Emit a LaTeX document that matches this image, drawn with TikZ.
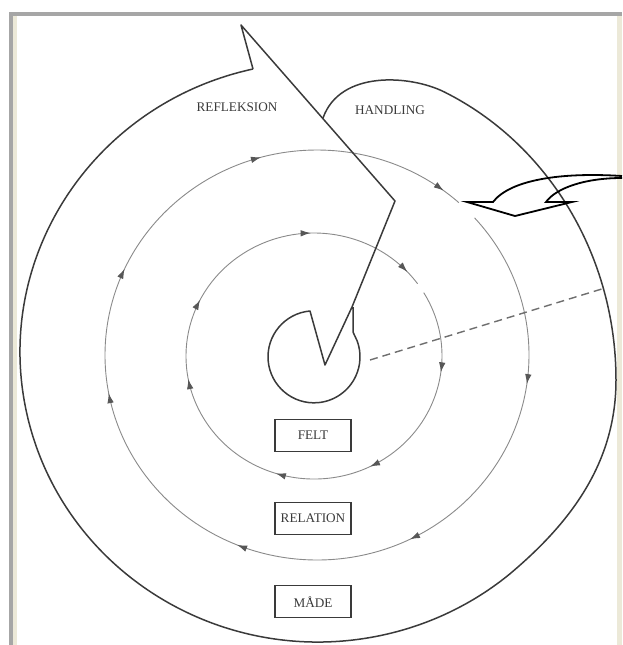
\documentclass[tikz,border=0pt]{standalone}
\usepackage{fontspec}
\setmainfont{Liberation Serif}
\usetikzlibrary{arrows.meta,decorations.markings,positioning}
\definecolor{inkgray}{HTML}{3A3A3A}
\definecolor{ringgray}{HTML}{8A8A8A}
\definecolor{framegray}{HTML}{A6A6A6}
\definecolor{framecream}{HTML}{ECE9D8}
\tikzset{
  outline/.style={inkgray, line width=1.5pt, line join=round},
  ring/.style={ringgray, line width=0.9pt},
  flowmark/.style={postaction={decorate, decoration={markings,
    mark=at position #1 with {\arrow[inkgray!85]{Latex[length=10pt,width=6.5pt]}}}}},
  tag/.style={draw=inkgray, line width=1.1pt, minimum width=76pt, minimum height=32pt, inner sep=0pt, text=inkgray},
}
\begin{document}
\begin{tikzpicture}[x=1pt, y=-1pt, every node/.style={font=\fontsize{13.2}{15}\selectfont}]
  \useasboundingbox (0,0) rectangle (622,645);
  % --- frame ---
  \fill[framegray] (9,12) rectangle (622,16);
  \fill[framegray] (9,12) rectangle (13,645);
  \fill[framecream] (13,16) rectangle (17,645);
  \fill[framecream] (617,16) rectangle (622,645);
  % --- rings ---
  \def\cx{314} \def\cy{356}
  \draw[ring, flowmark/.list={0.107,0.265,0.389,0.563,0.668,0.842,0.98}]
    (\cx,\cy) ++(-31:128 and 123) arc[start angle=-31, end angle=324, x radius=128, y radius=123];
  \draw[ring, flowmark/.list={0.14,0.297,0.435,0.596,0.695,0.836,0.985}]
    (317,355) ++(-42:212 and 205) arc[start angle=-42, end angle=312, x radius=212, y radius=205];
  % --- spiral band ---
  \draw[outline] (318,352) ++(-102.6:298 and 290) coordinate (bandtop)
    arc[start angle=-102.6, end angle=-310, x radius=298, y radius=290]
    .. controls (568,525) and (616,465) .. (616,380)
    arc[start angle=0, end angle=-65, x radius=298, y radius=318]
    .. controls (410,75) and (340,70) .. (323,118);
  \draw[outline] (bandtop) -- (241,25) -- (395,201) -- (352,307) -- (325,365) -- (310,311)
    arc[start angle=-95, end angle=-380, radius=46] -- (353,332) -- (353,307);
  \draw[ringgray!80!black, line width=1.4pt, dash pattern=on 8pt off 5pt] (370,360) -- (605,288);
  % --- hollow arrow ---
  \draw[black, line width=1.8pt, line join=miter] (622,176) .. controls (560,172) and (510,180) .. (493,202)
    -- (467,202) -- (515,216) -- (572,202) -- (546,202) .. controls (556,188) and (585,178) .. (622,178);
  % --- labels ---
  \node[text=inkgray] (refl) at (237,107) {REFLEKSION};
  \node[text=inkgray] (hand) at (390,110) {HANDLING};
  \node[tag] (felt) at (313,435.5) {FELT};
  \node[tag, below=50pt of felt] (relation) {RELATION};
  \node[tag, below=50pt of relation] (maade) {MÅDE};
\end{tikzpicture}
\end{document}
